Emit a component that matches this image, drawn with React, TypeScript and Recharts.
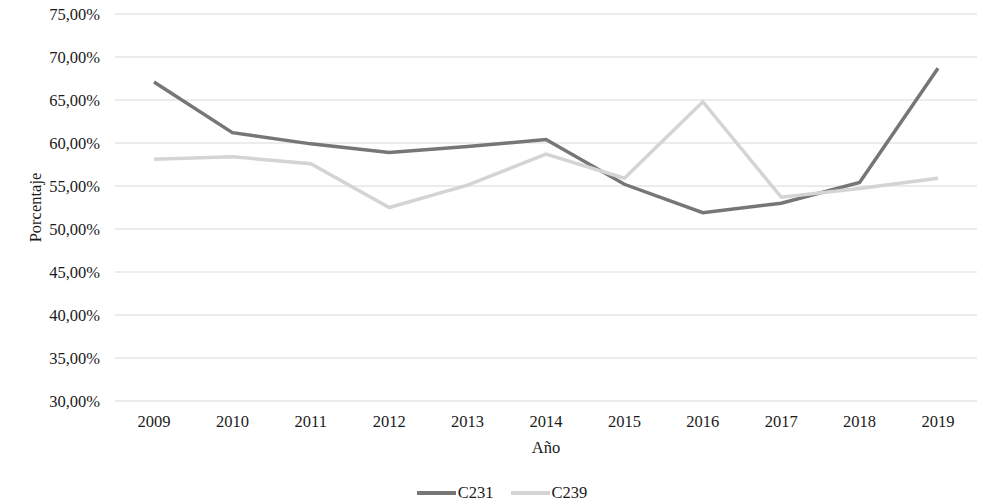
import { LineChart, Line, XAxis, YAxis, CartesianGrid, Legend } from "recharts";

const years = ["2009", "2010", "2011", "2012", "2013", "2014", "2015", "2016", "2017", "2018", "2019"];
const c231 = [67.1, 61.2, 59.9, 58.9, 59.6, 60.4, 55.2, 51.9, 53.0, 55.4, 68.7];
const c239 = [58.1, 58.4, 57.6, 52.5, 55.1, 58.7, 55.9, 64.8, 53.7, 54.7, 55.9];
const yTicks = [30, 35, 40, 45, 50, 55, 60, 65, 70, 75];

const seriesColors = { C231: "#767676", C239: "#d4d4d4" };

const data = years.map((year, i) => ({ year, C231: c231[i], C239: c239[i] }));

const FONT = "'Liberation Serif', 'Times New Roman', serif";
const fmt = (v: number) => v.toFixed(2).replace(".", ",") + "%";

const YLabel = (props: any) => {
  const vb = props.viewBox || {};
  const x = 35;
  const y = vb.y + vb.height / 2;
  return (
    <text
      x={x}
      y={y}
      transform={`rotate(-90, ${x}, ${y})`}
      textAnchor="middle"
      dominantBaseline="central"
      fontFamily={FONT}
      fontSize={16.5}
      fill="#1a1a1a"
    >
      Porcentaje
    </text>
  );
};

const XLabel = (props: any) => {
  const vb = props.viewBox || {};
  return (
    <text
      x={vb.x + vb.width / 2}
      y={447}
      textAnchor="middle"
      dominantBaseline="central"
      fontFamily={FONT}
      fontSize={16.5}
      fill="#1a1a1a"
    >
      Año
    </text>
  );
};

const LegendContent = () => (
  <div
    style={{
      height: 22,
      display: "flex",
      alignItems: "center",
      justifyContent: "center",
      fontFamily: FONT,
      fontSize: 16.5,
      color: "#1a1a1a",
      paddingLeft: 24,
    }}
  >
    {(["C231", "C239"] as const).map((name) => (
      <span key={name} style={{ display: "flex", alignItems: "center", marginRight: 17 }}>
        <span
          style={{
            display: "inline-block",
            width: 39,
            height: 4,
            background: seriesColors[name],
            marginRight: 2,
          }}
        />
        {name}
      </span>
    ))}
  </div>
);

export default function App() {
  return (
    <div style={{ position: "absolute", left: 0, top: 0, background: "#fff" }}>
      <LineChart
        width={983}
        height={504}
        data={data}
        margin={{ top: 14, right: 6, bottom: 0, left: 20 }}
      >
        <CartesianGrid vertical={false} stroke="#d9d9d9" strokeWidth={1} />
        <XAxis
          dataKey="year"
          axisLine={false}
          tickLine={false}
          tickSize={0}
          tickMargin={14}
          height={81}
          padding={{ left: 39, right: 39 }}
          interval={0}
          tick={{ fontFamily: FONT, fontSize: 16.5, fill: "#1a1a1a" }}
          label={<XLabel />}
        />
        <YAxis
          domain={[30, 75]}
          ticks={yTicks}
          tickFormatter={fmt}
          axisLine={false}
          tickLine={false}
          tickSize={0}
          tickMargin={15}
          width={95}
          interval={0}
          tick={{ fontFamily: FONT, fontSize: 16.5, fill: "#1a1a1a" }}
          label={<YLabel />}
        />
        <Legend verticalAlign="bottom" content={<LegendContent />} />
        <Line
          type="linear"
          dataKey="C231"
          stroke={seriesColors.C231}
          strokeWidth={3.5}
          dot={false}
          isAnimationActive={false}
        />
        <Line
          type="linear"
          dataKey="C239"
          stroke={seriesColors.C239}
          strokeWidth={3.5}
          dot={false}
          isAnimationActive={false}
        />
      </LineChart>
    </div>
  );
}
